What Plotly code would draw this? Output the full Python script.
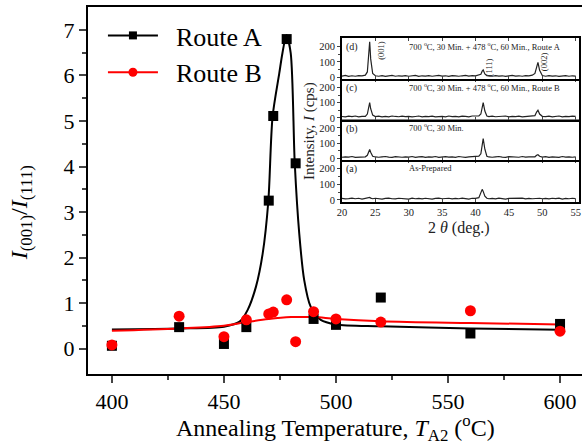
import plotly.graph_objects as go

# ---------------- main data ----------------
T_A = [400, 430, 450, 460, 470, 472, 478, 482, 490, 500, 520, 560, 600]
R_A = [0.06, 0.47, 0.10, 0.47, 3.25, 5.11, 6.80, 4.07, 0.65, 0.52, 1.12, 0.33, 0.54]
T_B = [400, 430, 450, 460, 470, 472, 478, 482, 490, 500, 520, 560, 600]
R_B = [0.08, 0.71, 0.26, 0.63, 0.76, 0.80, 1.07, 0.15, 0.81, 0.65, 0.58, 0.83, 0.38]

fit_A_T = [400, 430, 450, 457, 460.6, 464.3, 467.3, 469.8, 471.7, 474.7, 476.1, 477.9,
           479.8, 481.6, 483.6, 485.8, 488.7, 493.2, 500, 520, 560, 600]
fit_A_R = [0.42, 0.44, 0.48, 0.59, 0.85, 1.36, 2.09, 3.23, 5.09, 6.05, 6.49, 6.89,
           6.49, 4.07, 2.53, 1.51, 0.92, 0.63, 0.53, 0.49, 0.44, 0.41]
fit_B_T = [400, 430, 450, 460, 470, 480, 490, 500, 520, 560, 600]
fit_B_R = [0.39, 0.44, 0.50, 0.58, 0.65, 0.69, 0.69, 0.65, 0.60, 0.56, 0.53]

x_ticks = [400, 450, 500, 550, 600]
y_ticks = [0, 1, 2, 3, 4, 5, 6, 7]

# ---------------- inset XRD data ----------------
two_theta = [20.0, 20.5, 21.0, 21.5, 22.0, 22.5, 23.0, 23.5, 23.8, 24.0, 24.15, 24.3, 24.6,
             25.0, 25.5, 26.0, 26.5, 27.0, 27.5, 28.0, 28.5, 29.0, 29.5, 30.0, 30.5, 31.0,
             31.5, 32.0, 32.5, 33.0, 33.5, 34.0, 34.5, 35.0, 35.5, 36.0, 36.5, 37.0, 37.5,
             38.0, 38.5, 39.0, 39.5, 40.0, 40.5, 40.8, 41.0, 41.15, 41.4, 41.7, 42.0, 42.5,
             43.0, 43.5, 44.0, 44.5, 45.0, 45.5, 46.0, 46.5, 47.0, 47.5, 48.0, 48.5, 48.9,
             49.15, 49.35, 49.6, 50.0, 50.5, 51.0, 51.5, 52.0, 52.5, 53.0, 53.5, 54.0, 54.5, 55.0]

int_d = [8, 12, 6, 10, 7, 11, 9, 14, 35, 150, 232, 120, 25,
         10, 7, 11, 6, 9, 12, 7, 10, 8, 11, 7, 9, 12,
         6, 10, 8, 11, 7, 9, 12, 8, 10, 6, 11, 9, 7,
         10, 12, 8, 11, 9, 14, 20, 40, 48, 22, 10, 9, 7,
         11, 8, 10, 6, 9, 12, 8, 10, 7, 11, 9, 14, 25,
         70, 97, 45, 12, 7, 11, 8, 10, 6, 9, 11, 7, 10, 8]
int_c = [9, 6, 11, 8, 12, 7, 10, 9, 25, 80, 100, 60, 18,
         8, 11, 7, 10, 6, 12, 9, 7, 11, 8, 10, 6, 9,
         12, 7, 10, 8, 11, 6, 9, 10, 7, 12, 8, 10, 6,
         11, 9, 7, 12, 10, 13, 25, 80, 100, 45, 12, 8, 11,
         7, 10, 9, 12, 6, 10, 8, 11, 7, 9, 12, 10, 15,
         38, 50, 25, 10, 8, 11, 7, 9, 12, 6, 10, 8, 11, 9]
int_b = [7, 10, 8, 12, 6, 9, 11, 10, 20, 50, 58, 40, 14,
         9, 7, 10, 12, 8, 6, 11, 9, 7, 10, 8, 12, 6,
         9, 11, 7, 10, 8, 12, 6, 9, 11, 8, 10, 7, 12,
         9, 6, 10, 11, 9, 14, 30, 105, 130, 60, 14, 9, 7,
         10, 12, 8, 6, 11, 9, 10, 7, 12, 8, 10, 9, 10,
         20, 24, 14, 8, 11, 7, 10, 9, 6, 12, 8, 10, 7, 9]
int_a = [10, 7, 9, 12, 8, 11, 6, 10, 10, 14, 16, 12, 8,
         11, 9, 6, 10, 12, 8, 7, 11, 9, 10, 6, 12, 8,
         10, 7, 11, 9, 6, 10, 12, 8, 9, 11, 7, 10, 8,
         12, 9, 6, 11, 10, 15, 45, 68, 55, 25, 11, 8, 10,
         7, 12, 9, 6, 10, 11, 8, 9, 12, 7, 10, 8, 10,
         12, 14, 11, 8, 10, 7, 11, 9, 12, 6, 10, 8, 11, 9]

inset_x_ticks = [20, 25, 30, 35, 40, 45, 50, 55]
inset_y_ticks = [0, 100, 200]

panel_labels = ["(a)", "(b)", "(c)", "(d)"]
panel_texts = ["As-Prepared",
               "700 <sup>o</sup>C, 30 Min.",
               "700 <sup>o</sup>C, 30 Min. + 478 <sup>o</sup>C, 60 Min., Route B",
               "700 <sup>o</sup>C, 30 Min. + 478 <sup>o</sup>C, 60 Min., Route A"]
patterns = [int_a, int_b, int_c, int_d]

FONT = "Liberation Serif"
W, H = 584, 445
ML, MR, MT, MB = 88, 0, 7, 71
PW, PH = W - ML - MR, H - MT - MB


def px(xp):
    return (xp - ML) / PW


def py(yp):
    return (H - MB - yp) / PH


fig = go.Figure()

# fits
fig.add_trace(go.Scatter(x=fit_A_T, y=fit_A_R, mode="lines", line=dict(color="black", width=2, shape="spline", smoothing=0.8),
                         showlegend=False, hoverinfo="skip"))
fig.add_trace(go.Scatter(x=fit_B_T, y=fit_B_R, mode="lines", line=dict(color="red", width=2, shape="spline"),
                         showlegend=False, hoverinfo="skip"))
# points
fig.add_trace(go.Scatter(x=T_A, y=R_A, mode="markers", marker=dict(symbol="square", size=10, color="black"),
                         showlegend=False))
fig.add_trace(go.Scatter(x=T_B, y=R_B, mode="markers", marker=dict(symbol="circle", size=11, color="red"),
                         showlegend=False))
# legend entries
fig.add_trace(go.Scatter(x=[None], y=[None], mode="lines+markers", name="\u00a0\u00a0Route A",
                         line=dict(color="black", width=2), marker=dict(symbol="square", size=8, color="black")))
fig.add_trace(go.Scatter(x=[None], y=[None], mode="lines+markers", name="\u00a0\u00a0Route B",
                         line=dict(color="red", width=2), marker=dict(symbol="circle", size=9, color="red")))

# inset panels: pixel boundaries (bottom to top)
bounds = [201.7, 160.0, 119.5, 79.0, 38.0]
ix0, ix1 = px(343), px(581)

layout_axes = {}
for i in range(4):
    n = i + 2
    xa = f"xaxis{n}"
    ya = f"yaxis{n}"
    fig.add_trace(go.Scatter(x=two_theta, y=patterns[i], mode="lines",
                             line=dict(color="#222222", width=1.2),
                             xaxis=f"x{n}", yaxis=f"y{n}", showlegend=False, hoverinfo="skip"))
    layout_axes[xa] = dict(domain=[ix0, ix1], anchor=f"y{n}", range=[20, 55.5],
                           tickvals=inset_x_ticks, showticklabels=(i == 0),
                           ticks="inside", ticklen=3, tickwidth=1, mirror="ticks",
                           showline=True, linecolor="black", linewidth=1.5, showgrid=False, zeroline=False,
                           tickfont=dict(family=FONT, size=10.5, color="#222"))
    layout_axes[ya] = dict(domain=[py(bounds[i]), py(bounds[i + 1])], anchor=f"x{n}", range=[-11, 256],
                           tickvals=inset_y_ticks, ticks="outside", ticklen=3, tickwidth=1,
                           minor=dict(tickvals=[50, 150], ticks="outside", ticklen=2, tickwidth=1),
                           showline=True, mirror=True, linecolor="black", linewidth=1.5,
                           showgrid=False, zeroline=False,
                           tickfont=dict(family=FONT, size=10.5, color="#222"))


def ann(x, y, text, size, angle=0, xanchor="center", yanchor="middle", color="#222"):
    return dict(xref="paper", yref="paper", x=px(x), y=py(y), text=text, textangle=angle,
                showarrow=False, xanchor=xanchor, yanchor=yanchor,
                font=dict(family=FONT, size=size, color=color))


annotations = []
for i in range(4):
    top = bounds[i + 1]
    annotations.append(ann(345, top + 1, panel_labels[i], 10, xanchor="left", yanchor="top"))
    annotations.append(ann(408, top + 1, panel_texts[i], 8.5, xanchor="left", yanchor="top"))

hkl = [("(001)", 382, 50), ("(111)", 491, 67), ("(002)", 546, 62)]
for t, xx, yy in hkl:
    annotations.append(ann(xx, yy, t, 8.5, angle=-90))

annotations.append(ann(310, 131, "Intensity, <i>I</i> (cps)", 15, angle=-90))
annotations.append(ann(461, 228, "2 <i>θ</i> (deg.)", 16))

# main axis titles
annotations.append(ann(337, 428, "Annealing Temperature, <i>T</i><sub>A2</sub> (<sup>o</sup>C)", 24, color="black"))
annotations.append(ann(21, 213, "<i>I</i><sub>(001)</sub>/<i>I</i><sub>(111)</sub>", 24, angle=-90, color="black"))

fig.update_layout(
    width=W, height=H,
    margin=dict(l=ML, r=MR, t=MT, b=MB),
    paper_bgcolor="white", plot_bgcolor="white",
    xaxis=dict(range=[389.33, 609.8], tickvals=x_ticks, ticks="outside", ticklen=7, tickwidth=1.5,
               minor=dict(tickvals=[425, 475, 525, 575], ticks="outside", ticklen=4, tickwidth=1.5),
               showline=True, linecolor="black", linewidth=2, mirror=True,
               showgrid=False, zeroline=False,
               tickfont=dict(family=FONT, size=22, color="black")),
    yaxis=dict(range=[-0.56, 7.505], tickvals=y_ticks, ticks="outside", ticklen=7, tickwidth=1.5,
               minor=dict(tickvals=[0.5, 1.5, 2.5, 3.5, 4.5, 5.5, 6.5], ticks="outside", ticklen=4, tickwidth=1.5),
               showline=True, linecolor="black", linewidth=2, mirror=False,
               showgrid=False, zeroline=False,
               tickfont=dict(family=FONT, size=22, color="black")),
    legend=dict(x=px(103), y=py(12), xanchor="left", yanchor="top", bgcolor="rgba(0,0,0,0)",
                font=dict(family=FONT, size=26, color="black"), itemwidth=50, tracegroupgap=0),
    shapes=[dict(type="rect", xref="paper", yref="paper", x0=ix0, x1=ix1, y0=py(bounds[0]), y1=py(bounds[4]),
                 fillcolor="white", line=dict(width=0), layer="below")],
    annotations=annotations,
    **layout_axes,
)

fig.write_html("out.html", config={"displayModeBar": False},
               post_script="document.body.style.margin='0px';document.body.style.padding='0px';")
